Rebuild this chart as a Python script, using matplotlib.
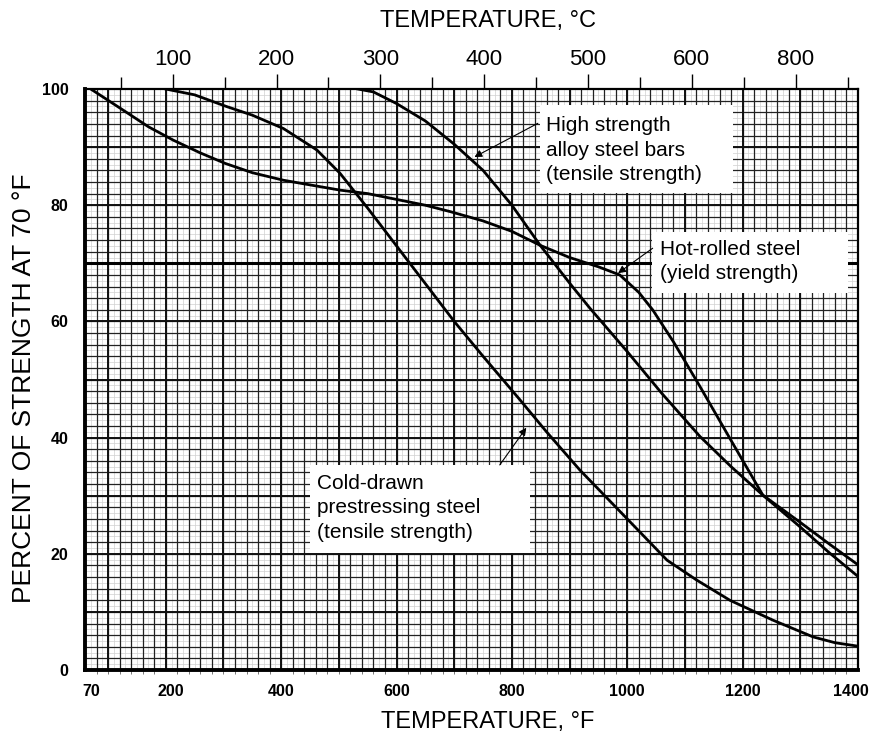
import numpy as np
import matplotlib.pyplot as plt
from matplotlib.patches import Rectangle
from matplotlib.transforms import ScaledTranslation

plt.rcParams['font.family'] = ['Liberation Sans', 'DejaVu Sans']

# strength vs temperature, read as (deg F, percent of strength at 70 F)
cold_F   = [200, 250, 305, 350, 404, 462, 502, 550, 600, 650, 700, 750, 814, 860,
            918, 1000, 1069, 1120, 1178, 1252, 1322, 1360, 1400]
cold_pct = [100, 99.0, 97.0, 95.5, 93.2, 89.5, 85.5, 79.5, 73.0, 66.5, 60.0, 54.0, 46.5, 41.0,
            34.4, 26.0, 18.9, 15.5, 12.0, 8.6, 5.7, 4.7, 4.1]

hot_F   = [70, 121, 170, 213, 260, 303, 350, 404, 450, 502, 550, 600, 650, 693, 750, 800,
           849, 900, 950, 987, 1020, 1044, 1080, 1126, 1180, 1235, 1300, 1350, 1400]
hot_pct = [100, 96.7, 93.5, 91.2, 89.0, 87.2, 85.6, 84.3, 83.5, 82.6, 82.0, 81.0, 80.0, 78.9,
           77.3, 75.5, 73.1, 71.0, 69.4, 68.0, 65.0, 62.0, 56.5, 48.8, 39.5, 30.1, 24.6, 20.2, 16.1]

alloy_F   = [533, 560, 600, 650, 700, 750, 800, 849, 900, 935, 1000, 1060, 1126, 1180,
             1235, 1300, 1350, 1400]
alloy_pct = [100, 99.5, 97.5, 94.5, 90.5, 86.0, 80.0, 73.1, 66.6, 62.3, 54.8, 47.6, 40.2, 35.0,
             30.1, 25.4, 21.7, 18.1]

f_ticks = [70, 200, 400, 600, 800, 1000, 1200, 1400]
pct_ticks = [0, 20, 40, 60, 80, 100]
c_ticks = [100, 200, 300, 400, 500, 600, 700]
c_labels = ['100', '200', '300', '400', '500', '600', '800']

fig = plt.figure(figsize=(8.71, 7.37), dpi=100)
ax = fig.add_axes([0.0976, 0.0909, 0.8875, 0.7883])
ax.set_xlim(60, 1400)
ax.set_ylim(0, 100)

# graph paper
ax.vlines(np.arange(70, 1400, 20), 0, 100, color='#d0d0d0', lw=0.5, zorder=1)
ax.hlines(np.arange(1, 100, 2), 60, 1400, color='#d0d0d0', lw=0.5, zorder=1)
ax.vlines(np.arange(80, 1400, 20), 0, 100, color='#222222', lw=0.9, zorder=1)
ax.hlines(np.arange(2, 100, 2), 60, 1400, color='#222222', lw=0.9, zorder=1)
ax.vlines(np.arange(100, 1400, 100), 0, 100, color='#111111', lw=1.4, zorder=1)
ax.hlines(np.arange(10, 100, 10), 60, 1400, color='#111111', lw=1.4, zorder=1)
ax.axhline(70, color='black', lw=2.2, zorder=1)

for F, p in [(cold_F, cold_pct), (hot_F, hot_pct), (alloy_F, alloy_pct)]:
    ax.plot(F, p, color='black', lw=2.0, zorder=3, solid_joinstyle='round')

for s in ['left', 'bottom']:
    ax.spines[s].set_linewidth(2.8)
for s in ['top', 'right']:
    ax.spines[s].set_linewidth(1.6)

ax.set_xticks(f_ticks)
ax.set_xticks(np.arange(80, 1400, 20), minor=True)
ax.set_yticks(pct_ticks)
ax.tick_params(axis='both', which='major', length=0, labelsize=11.5)
ax.tick_params(axis='x', which='minor', length=3, width=0.7, color='#777777')
ax.tick_params(axis='x', pad=10)
ax.tick_params(axis='y', pad=12)
for lab in ax.get_xticklabels() + ax.get_yticklabels():
    lab.set_fontweight('bold')
# nudge the end labels so they sit inside the figure
xl = ax.get_xticklabels()
xl[1].set_transform(xl[1].get_transform() + ScaledTranslation(5 / 100, 0, fig.dpi_scale_trans))
xl[-1].set_transform(xl[-1].get_transform() + ScaledTranslation(-7 / 100, 0, fig.dpi_scale_trans))

sec = ax.secondary_xaxis('top', functions=(lambda f: (f - 32) * 5 / 9,
                                           lambda c: c * 9 / 5 + 32))
sec.set_xticks(c_ticks, labels=c_labels)
sec.set_xticks(np.arange(50, 800, 100), minor=True)
sec.tick_params(which='major', length=11, width=1, labelsize=16, pad=3)
sec.tick_params(which='minor', length=9, width=1)
sec.spines['top'].set_visible(False)

fig.text(0.56, 1 - 21 / 737, 'TEMPERATURE, \u00b0C', ha='center', va='center', fontsize=17)
fig.text(0.56, 1 - 722 / 737, 'TEMPERATURE, \u00b0F', ha='center', va='center', fontsize=17)
fig.text(24 / 871, 1 - 388 / 737, 'PERCENT OF STRENGTH AT 70 \u00b0F', ha='center',
         va='center', rotation=90, fontsize=19)

# white label boxes cut out of the grid
for x0, x1, y0, y1 in [(849, 1183, 82.1, 97.2), (1043, 1382, 64.9, 75.4), (450, 831, 20.1, 35.3)]:
    ax.add_patch(Rectangle((x0, y0), x1 - x0, y1 - y0, facecolor='white', edgecolor='none', zorder=4))

arrow = dict(arrowstyle='-|>', color='black', lw=0.8, mutation_scale=11, shrinkA=0, shrinkB=0)
ax.annotate('', xy=(735, 88.3), xytext=(845, 94.1), arrowprops=arrow, zorder=5)
ax.annotate('', xy=(984, 68.3), xytext=(1044, 72.6), arrowprops=arrow, zorder=5)
ax.annotate('', xy=(825, 41.7), xytext=(779, 35.3), arrowprops=arrow, zorder=5)

txt = dict(fontsize=15, ha='left', va='center', linespacing=1.35, zorder=6)
ax.text(859, 89.5, 'High strength\nalloy steel bars\n(tensile strength)', **txt)
ax.text(1057, 70.3, 'Hot-rolled steel\n(yield strength)', **txt)
ax.text(462, 27.9, 'Cold-drawn\nprestressing steel\n(tensile strength)', **txt)

fig.savefig('out.png', dpi=100)
